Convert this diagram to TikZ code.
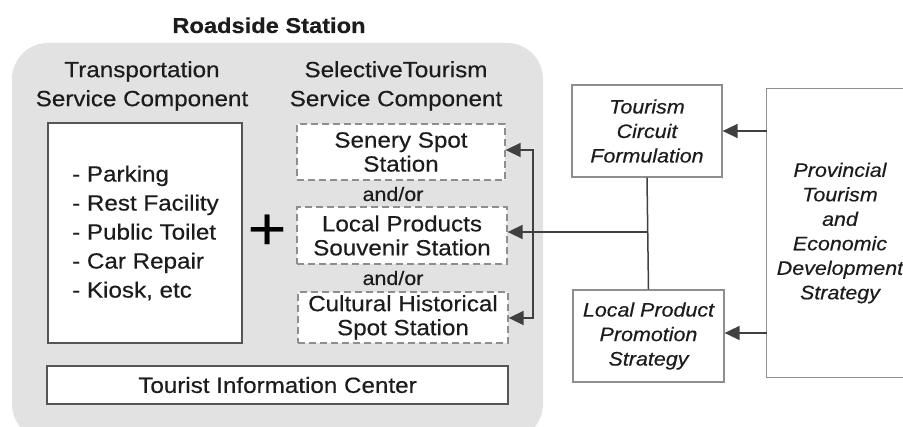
\documentclass[tikz,border=0pt]{standalone}
\usepackage{fontspec}
\setmainfont{Liberation Sans}[FakeStretch=1.1, FakeBold=0.4]
\usetikzlibrary{arrows.meta}

\definecolor{panelgray}{HTML}{E2E2E2}
\definecolor{ink}{HTML}{1C1C1C}
\definecolor{darkedge}{HTML}{555555}
\definecolor{softedge}{HTML}{8E8E8E}
\definecolor{wire}{HTML}{404040}

\tikzset{head/.tip={Triangle[length=15pt,width=14pt]}}

\begin{document}
\begin{tikzpicture}[x=1pt,y=-1pt,
  txt/.style={text=ink, align=center, inner sep=0pt},
  big/.style={font=\fontsize{22}{29}\selectfont},
  boxtxt/.style={font=\fontsize{22}{24}\selectfont},
  small/.style={font=\fontsize{19.5}{24.5}\selectfont\itshape},
  solidbox/.style={draw=darkedge, line width=1.3pt, fill=white, inner sep=0pt},
  optbox/.style={draw=softedge, dash pattern=on 7pt off 4pt, line width=1.3pt,
                 fill=white, inner sep=0pt, txt, boxtxt},
  planbox/.style={draw=softedge, line width=1.2pt, fill=white, inner sep=0pt,
                  txt, small},
  conn/.style={draw=wire, line width=1.5pt},
  tip/.style={-{head}, conn},
]
\useasboundingbox (0,0) rectangle (903,427);

% roadside station panel
\fill[panelgray, rounded corners=36pt] (12,43) rectangle (543,440);
\node[txt, font=\fontsize{21.5}{26}\selectfont\bfseries, anchor=base]
  (title) at (269,33) {Roadside Station};

% column headings
\node[txt, big] (transhead) at (142,86) {Transportation\\Service Component};
\node[txt, big] (tourhead) at (396,86) {SelectiveTourism\\Service Component};

% transportation services
\node[solidbox, minimum width=194pt, minimum height=220pt] (trans) at (145,233) {};
\node[txt, big, align=left, anchor=west] (translist) at (72,233)
  {- Parking\\- Rest Facility\\- Public Toilet\\- Car Repair\\- Kiosk, etc};

% plus sign between the components
\node[txt, text=black, font=\fontsize{60}{60}\selectfont] (plus) at (267,232) {+};

% selective tourism stations
\node[optbox, minimum width=208pt, minimum height=56pt] (senery) at (401,152)
  {Senery Spot\\Station};
\node[txt, font=\fontsize{19.5}{24}\selectfont] (or1) at (393,194) {and/or};
\node[optbox, minimum width=210pt, minimum height=57pt] (local) at (402,235.5)
  {Local Products\\Souvenir Station};
\node[txt, font=\fontsize{19.5}{24}\selectfont] (or2) at (393,278) {and/or};
\node[optbox, minimum width=210pt, minimum height=51pt] (cultural) at (403,317.5)
  {Cultural Historical\\Spot Station};

% tourist information center
\node[solidbox, txt, big, minimum width=461pt, minimum height=38pt] (tic) at (277.5,385)
  {Tourist Information Center};

% planning boxes
\node[planbox, minimum width=150pt, minimum height=92pt] (tcf) at (647,131)
  {Tourism\\Circuit\\Formulation};
\node[planbox, minimum width=151pt, minimum height=92pt] (lpps) at (648.5,336)
  {Local Product\\Promotion\\Strategy};
\node[txt, small, minimum width=146pt, minimum height=288pt] (prov) at (840,233)
  {Provincial\\Tourism\\and\\Economic\\Development\\Strategy};
\draw[draw=softedge, line width=1.2pt]
  (prov.north east) -- (prov.north west) -- (prov.south west) -- (prov.south east);

% strategy arrows
\draw[tip] (prov.west |- tcf) -- (tcf);
\draw[tip] (prov.west |- 0,333) -- (lpps.east |- 0,333);

% link between the two plans and its feed into the stations
\draw[conn] (tcf.south) -- (lpps.north);
\coordinate (hub) at (tcf.south |- 0,232);
\draw[tip] (hub) -- (local.east |- hub);

% bracket reaching the scenery and cultural stations
\coordinate (bt) at (533,150);
\coordinate (bb) at (533,318);
\draw[conn, {head}-{head}]
  (senery.east |- bt) -- (bt) -- (bb) -- (cultural.east |- bb);
\end{tikzpicture}
\end{document}
